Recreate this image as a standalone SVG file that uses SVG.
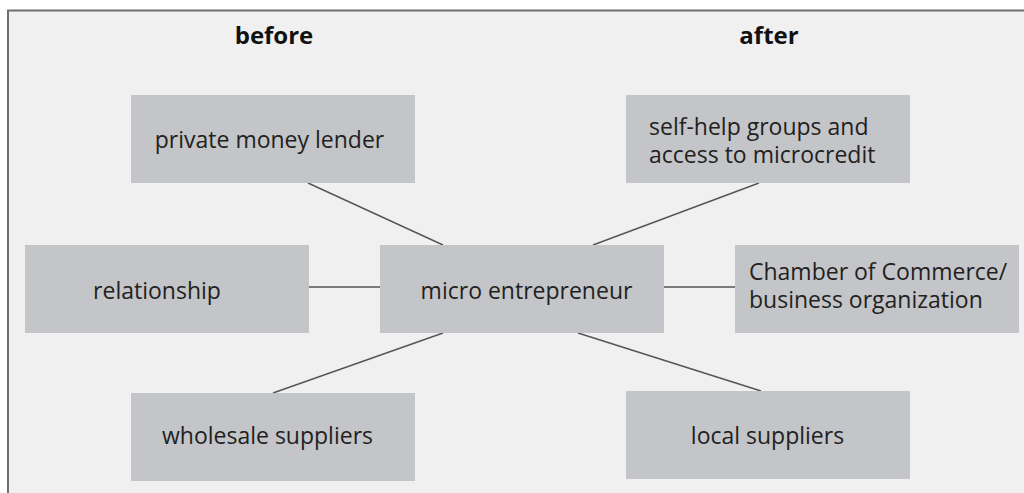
<svg xmlns="http://www.w3.org/2000/svg" width="1024" height="493" viewBox="0 0 1024 493">
  <style>
    .box { fill: #c3c5c9; }
    .lbl { font-family: "Open Sans", "Noto Sans", sans-serif; font-size: 23px; fill: #231f20; }
    .c { text-anchor: middle; }
    .ttl { font-family: "Open Sans", "Noto Sans", sans-serif; font-size: 24px; font-weight: bold; fill: #111; text-anchor: middle; }
    .con { stroke: #555; stroke-width: 1.4; fill: none; }
  </style>
  <rect x="0" y="0" width="1024" height="493" fill="#ffffff"/>
  <rect x="8" y="10.5" width="1016" height="482.5" fill="#f0f0f0"/>
  <path d="M8 493 V10.5 H1024" stroke="#6f6f6f" stroke-width="2" fill="none"/>

  <text class="ttl" x="274" y="44">before</text>
  <text class="ttl" x="769" y="44">after</text>

  <g id="connectors">
    <line class="con" x1="308" y1="183" x2="443" y2="245"/>
    <line class="con" x1="759" y1="183" x2="593" y2="245"/>
    <line class="con" x1="309" y1="287" x2="380" y2="287"/>
    <line class="con" x1="664" y1="287" x2="735" y2="287"/>
    <line class="con" x1="443" y1="333" x2="273" y2="393"/>
    <line class="con" x1="578" y1="333" x2="761" y2="391"/>
  </g>

  <g id="node-lender">
    <rect class="box" x="131" y="95" width="284" height="88"/>
    <text class="lbl c" x="269.5" y="148">private money lender</text>
  </g>
  <g id="node-selfhelp">
    <rect class="box" x="626" y="95" width="284" height="88"/>
    <text class="lbl" x="649" y="135">self-help groups and</text>
    <text class="lbl" x="649" y="163">access to microcredit</text>
  </g>
  <g id="node-relationship">
    <rect class="box" x="25" y="245" width="284" height="88"/>
    <text class="lbl c" x="157" y="299">relationship</text>
  </g>
  <g id="node-micro">
    <rect class="box" x="380" y="245" width="284" height="88"/>
    <text class="lbl c" x="526.5" y="299">micro entrepreneur</text>
  </g>
  <g id="node-chamber">
    <rect class="box" x="735" y="245" width="284" height="88"/>
    <text class="lbl" x="749" y="280">Chamber of Commerce/</text>
    <text class="lbl" x="749" y="308">business organization</text>
  </g>
  <g id="node-wholesale">
    <rect class="box" x="131" y="393" width="284" height="88"/>
    <text class="lbl c" x="267.5" y="444">wholesale suppliers</text>
  </g>
  <g id="node-local">
    <rect class="box" x="626" y="391" width="284" height="88"/>
    <text class="lbl c" x="767.5" y="444">local suppliers</text>
  </g>
</svg>
